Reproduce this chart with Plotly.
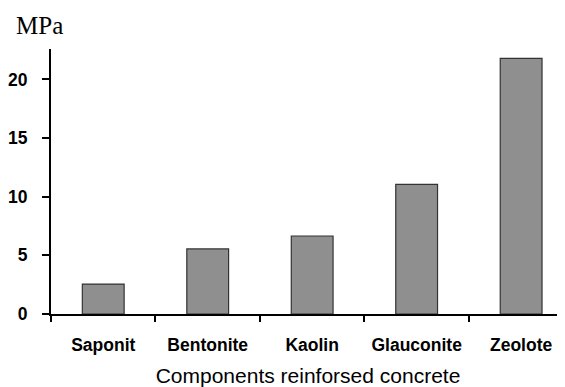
import plotly.graph_objects as go

categories = ["Saponit", "Bentonite", "Kaolin", "Glauconite", "Zeolote"]
values = [2.55, 5.55, 6.65, 11.05, 21.8]
y_ticks = [0, 5, 10, 15, 20]

fig = go.Figure(go.Bar(
    x=categories, y=values, width=0.4,
    marker=dict(color="#8f8f8f", line=dict(color="#333333", width=1.2)),
))

# page body has an 8px default margin; figure sized to fit the 565x387 window
fig.update_layout(
    width=557, height=379,
    margin=dict(l=43, r=0, t=41, b=73, autoexpand=False),
    plot_bgcolor="white", paper_bgcolor="white",
    showlegend=False,
    font=dict(family="Liberation Sans, Arial", color="black"),
    xaxis=dict(
        range=[-0.5, 4.42], tickson="boundaries", ticks="outside", ticklen=6,
        tickwidth=1.5, tickcolor="black", automargin=False,
        showline=True, linecolor="black", linewidth=2,
        ticklabelstandoff=14,
        tickfont=dict(size=17.5, family="Liberation Sans, Arial", weight="bold"),
        title=dict(text="Components reinforsed concrete",
                   font=dict(size=21, family="Liberation Sans, Arial"), standoff=17),
        showgrid=False,
    ),
    yaxis=dict(
        range=[0, 22.6], tickvals=y_ticks, ticks="outside", ticklen=7,
        tickwidth=1.5, tickcolor="black", automargin=False,
        showline=True, linecolor="black", linewidth=2,
        ticklabelstandoff=11,
        tickfont=dict(size=17.5, family="Liberation Sans, Arial", weight="bold"),
        showgrid=False, zeroline=False,
    ),
)
fig.add_annotation(text="MPa", xref="paper", yref="paper", x=-0.072, y=1.09,
                   xanchor="left", yanchor="middle", showarrow=False,
                   font=dict(size=25, family="Liberation Serif, Times New Roman"))

fig.write_html("out.html")
